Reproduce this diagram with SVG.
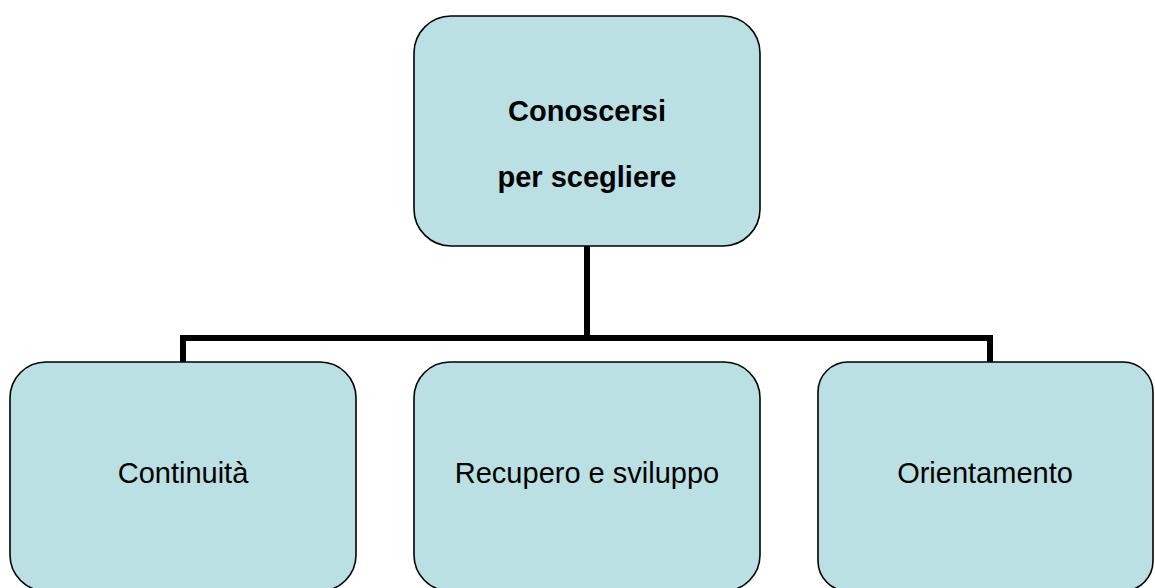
<svg xmlns="http://www.w3.org/2000/svg" width="1155" height="588" viewBox="0 0 1155 588">
<style>
.box{fill:#BAE0E3;stroke:#000;stroke-width:1.6}
.t{font-family:"Liberation Sans",Arial,sans-serif;font-size:29px;fill:#000;text-anchor:middle}
.b{font-weight:bold}
.c{fill:none;stroke:#000;stroke-width:6;stroke-linejoin:miter;stroke-linecap:butt}
</style>
<rect width="1155" height="588" fill="#fff"/>
<g id="connectors">
<path class="c" d="M587,246 V338"/>
<path class="c" d="M183,362 V338 H990 V362"/>
</g>
<g id="root">
<rect class="box" x="414" y="16" width="346" height="230" rx="37" ry="37"/>
<text class="t b" x="587" y="121">Conoscersi</text>
<text class="t b" x="587" y="187">per scegliere</text>
</g>
<g id="continuita">
<rect class="box" x="10" y="362" width="346" height="229" rx="36" ry="36"/>
<text class="t" x="183" y="483">Continuità</text>
</g>
<g id="recupero">
<rect class="box" x="414" y="362" width="346" height="229" rx="36" ry="36"/>
<text class="t" x="587" y="483">Recupero e sviluppo</text>
</g>
<g id="orientamento">
<rect class="box" x="818" y="362" width="335" height="229" rx="30" ry="30"/>
<text class="t" x="985" y="483">Orientamento</text>
</g>
</svg>
